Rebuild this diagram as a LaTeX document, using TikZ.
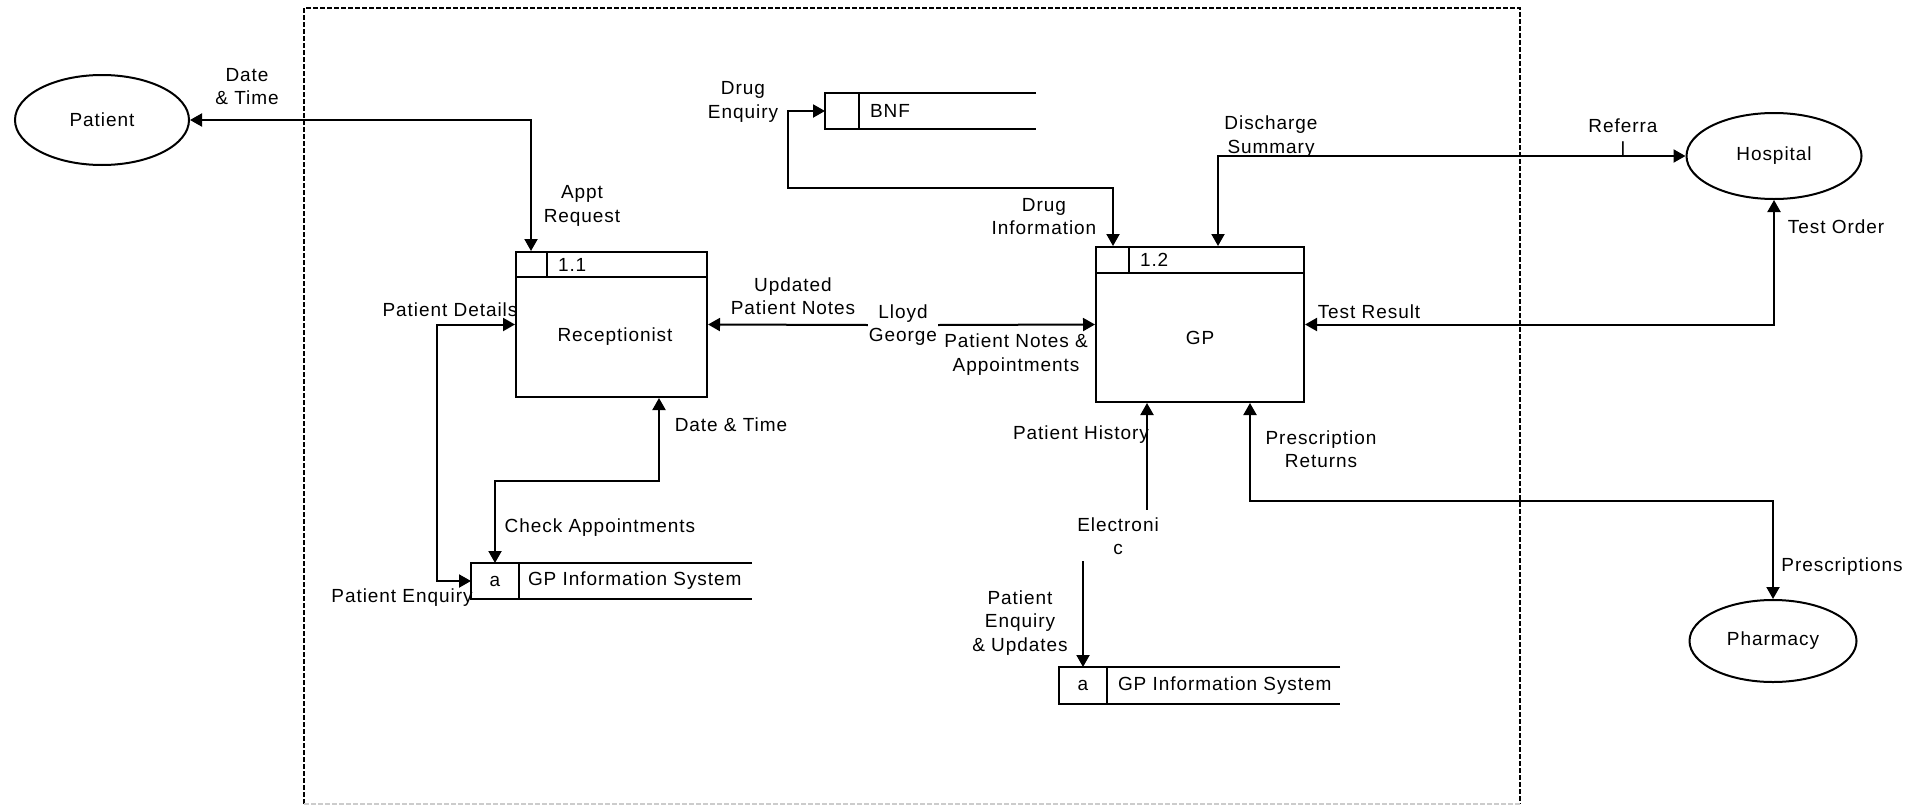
\documentclass[tikz,border=0pt]{standalone}
\usepackage{fontspec}
\setmainfont{Liberation Sans}[LetterSpace=5.0]
\usetikzlibrary{arrows.meta,shapes.geometric,calc}
\begin{document}
\begin{tikzpicture}[x=1pt,y=-1pt,
  font=\fontsize{19}{23.5}\selectfont,
  line width=2pt,
  >={Triangle[length=12pt,width=13pt]},
  lbl/.style={inner sep=0pt, align=center},
  proc/.style={draw, rectangle, inner sep=0pt},
  ext/.style={draw, ellipse, inner sep=0pt},
  storebox/.style={rectangle, inner sep=0pt}]
\useasboundingbox (0,0) rectangle (1922,806);
% system boundary
\draw[line width=1.5pt, dash pattern=on 5pt off 2pt] (304,804) -- (304,8) -- (1520,8) -- (1520,804);
\draw[line width=1.2pt, gray!40, dash pattern=on 5pt off 2pt] (304,804) -- (1520,804);

% external entities
\node[ext, minimum width=174pt, minimum height=90pt] (pat) at (102,120) {Patient};
\node[ext, minimum width=175pt, minimum height=86pt] (hosp) at (1774,156) {Hospital};
\node[ext, minimum width=167pt, minimum height=82pt] (pharm) at (1773,641) {Pharmacy};

% process 1.1
\node[proc, minimum width=191pt, minimum height=145pt] (rec) at (611.5,324.5) {};
\draw ($(rec.north west)+(0,26)$) -- ($(rec.north east)+(0,26)$);
\draw ($(rec.north west)+(32,0)$) -- ($(rec.north west)+(32,26)$);
\node[lbl, anchor=west] (recn) at ($(rec.north west)+(42,14)$) {1.1};
\node[lbl] (rect) at (615,337) {Receptionist};

% process 1.2
\node[proc, minimum width=208pt, minimum height=155pt] (gp) at (1200,324.5) {};
\draw ($(gp.north west)+(0,27)$) -- ($(gp.north east)+(0,27)$);
\draw ($(gp.north west)+(34,0)$) -- ($(gp.north west)+(34,27)$);
\node[lbl, anchor=west] (gpn) at ($(gp.north west)+(44,14)$) {1.2};
\node[lbl] (gpt) at (1200,338) {GP};

% data stores
\node[storebox, minimum width=279pt, minimum height=34pt] (s1) at (611.5,581) {};
\draw (s1.north east) -- (s1.north west) -- (s1.south west) -- (s1.south east);
\draw ($(s1.north west)+(48,0)$) -- ($(s1.south west)+(48,0)$);
\node[lbl] (s1a) at ($(s1.west)+(24,0)$) {a};
\node[lbl, anchor=west] (s1t) at ($(s1.west)+(56,0)$) {GP Information System};

\node[storebox, minimum width=279pt, minimum height=35pt] (s2) at (1199.5,685.5) {};
\draw (s2.north east) -- (s2.north west) -- (s2.south west) -- (s2.south east);
\draw ($(s2.north west)+(48,0)$) -- ($(s2.south west)+(48,0)$);
\node[lbl] (s2a) at ($(s2.west)+(24,0)$) {a};
\node[lbl, anchor=west] (s2t) at ($(s2.west)+(58,0)$) {GP Information System};

\node[storebox, minimum width=209pt, minimum height=34pt] (bnf) at (930.5,111) {};
\draw (bnf.north east) -- (bnf.north west) -- (bnf.south west) -- (bnf.south east);
\draw ($(bnf.north west)+(34,0)$) -- ($(bnf.south west)+(34,0)$);
\node[lbl, anchor=west] (bnft) at ($(bnf.west)+(44,0)$) {BNF};

% flows
\draw[<->] (pat.east) -| ($(rec.north west)+(16,0)$);
\draw[<->] (rec.west) -- ++(-78,0) |- (s1.west);
\draw[<->] ($(rec.south west)+(144,0)$) -- ++(0,83) -| ($(s1.north west)+(24,0)$);

\node[lbl] (lg) at (903,325) {Lloyd\\George};
\draw[->] (lg.west) -- (rec.east);
\draw[->] (lg.east) -- (gp.west);

\draw[<->] (bnf.west) -- ++(-37,0) -- ++(0,77) -| ($(gp.north west)+(18,0)$);
\draw[<->] (hosp.west) -| ($(gp.north west)+(123,0)$);
\draw[<->] (hosp.south) |- (gp.east);
\draw[<->] ($(gp.south west)+(155,0)$) -- ++(0,98) -| (pharm.north);
\draw[<-] ($(gp.south west)+(52,0)$) -- ++(0,107);
\draw[->] ($(s2.north west)+(24,-106)$) -- ($(s2.north west)+(24,0)$);

% labels
\node[lbl] (l1) at (247,86.5) {Date\\\& Time};
\node[lbl] (l2) at (582,206) {Appt\\Request};
\node[lbl] (l3) at (450,310) {Patient Details};
\node[lbl] (l4) at (402,598) {Patient Enquiry};
\node[lbl] (l5) at (731,425) {Date \& Time};
\node[lbl] (l6) at (600,528) {Check Appointments};
\node[lbl] (l7) at (793,296) {Updated\\Patient Notes};
\node[lbl] (l8) at (1016,354.5) {Patient Notes \&\\Appointments};
\node[lbl] (l9) at (743,102) {Drug\\Enquiry};
\node[lbl] (l10) at (1044,216.5) {Drug\\Information};
\node[lbl] (l11) at (1271,136.5) {Discharge\\Summary};
\node[lbl] (l12) at (1623,137) {Referra\\l};
\node[lbl] (l13) at (1836,227) {Test Order};
\node[lbl] (l14) at (1369,312) {Test Result};
\node[lbl] (l15) at (1321,449) {Prescription\\Returns};
\node[lbl] (l16) at (1842,567) {Prescriptions};
\node[lbl] (l17) at (1081,435) {Patient History};
\node[lbl] (l18) at (1118,536) {Electroni\\c};
\node[lbl] (l19) at (1020,623) {Patient\\Enquiry\\\& Updates};
\end{tikzpicture}
\end{document}
